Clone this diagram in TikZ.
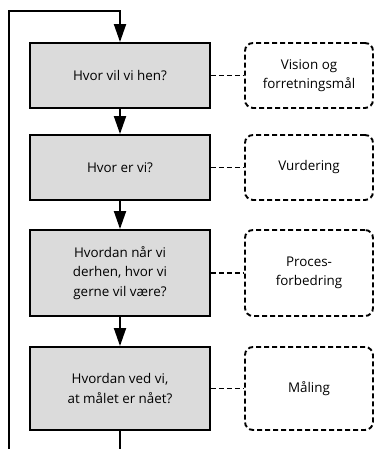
\documentclass[tikz,border=0pt]{standalone}
\usepackage{fontspec}
\setmainfont{Open Sans}
\usetikzlibrary{arrows.meta}
\tikzset{
  qbox/.style={draw=black, line width=1.9pt, fill=gray!28, minimum width=180pt, align=center, inner sep=2pt,
    font=\fontsize{13.4}{19.5}\selectfont},
  abox/.style={draw=black, line width=1.9pt, dash pattern=on 5pt off 3pt, rounded corners=8pt, minimum width=128pt, align=center, inner sep=2pt,
    font=\fontsize{13.4}{19.5}\selectfont},
  link/.style={line width=1.9pt, dash pattern=on 5pt off 3pt},
  flow/.style={line width=1.9pt, -{Triangle[length=18pt,width=12pt]}},
  plain/.style={line width=1.9pt}
}
\begin{document}
\begin{tikzpicture}[x=1pt,y=-1pt]
\useasboundingbox (0,0) rectangle (376,449);
\node[qbox, minimum height=65pt] (g1) at (120,75.5) {Hvor vil vi hen?};
\node[qbox, minimum height=65pt] (g2) at (120,167.5) {Hvor er vi?};
\node[qbox, minimum height=86pt] (g3) at (120,273) {Hvordan når vi\\derhen, hvor vi\\gerne vil være?};
\node[qbox, minimum height=83pt] (g4) at (120,388.5) {Hvordan ved vi,\\at målet er nået?};
\node[abox, minimum height=65pt] (d1) at (309,75.5) {Vision og\\forretningsmål};
\node[abox, minimum height=65pt] (d2) at (309,167.5) {Vurdering};
\node[abox, minimum height=86pt] (d3) at (309,273) {Proces-\\forbedring};
\node[abox, minimum height=83pt] (d4) at (309,388.5) {Måling};
\draw[link] (g1.east) -- (d1.west);
\draw[link] (g2.east) -- (d2.west);
\draw[link] (g3.east) -- (d3.west);
\draw[link] (g4.east) -- (d4.west);
\draw[flow] (g1) -- (g2);
\draw[flow] (g2) -- (g3);
\draw[flow] (g3) -- (g4);
\coordinate (bend) at (120,452);
\coordinate (bl) at (9,452);
\coordinate (tl) at (9,11);
\coordinate (tr) at (120,11);
\draw[plain] (g4.south) -- (bend);
\draw[flow] (bl) -- (tl) -- (tr) -- (g1.north);
\end{tikzpicture}
\end{document}
